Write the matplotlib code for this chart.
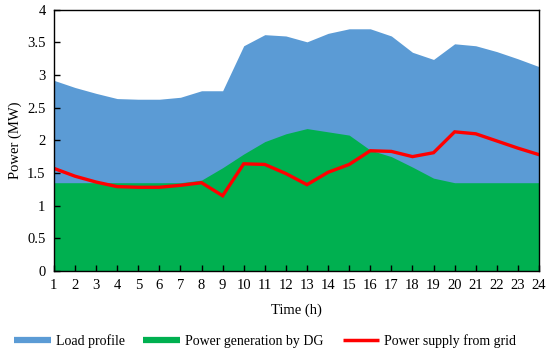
import matplotlib
matplotlib.use("Agg")
import matplotlib.pyplot as plt
from matplotlib.lines import Line2D

hours = list(range(1, 25))
load = [2.92, 2.81, 2.72, 2.64, 2.63, 2.63, 2.66, 2.76, 2.76, 3.45, 3.62, 3.60,
        3.51, 3.64, 3.71, 3.71, 3.60, 3.35, 3.24, 3.48, 3.45, 3.36, 3.25, 3.13]
dg = [1.35, 1.35, 1.35, 1.35, 1.35, 1.35, 1.35, 1.39, 1.58, 1.79, 1.98, 2.10,
      2.18, 2.13, 2.08, 1.85, 1.75, 1.59, 1.42, 1.35, 1.35, 1.35, 1.35, 1.35]
grid = [1.57, 1.45, 1.36, 1.29, 1.28, 1.28, 1.31, 1.35, 1.15, 1.64, 1.63, 1.49,
        1.32, 1.51, 1.63, 1.84, 1.83, 1.75, 1.81, 2.13, 2.10, 1.99, 1.88, 1.78]

labels = ["Load profile", "Power generation by DG", "Power supply from grid"]
c_load, c_dg, c_grid = "#5B9BD5", "#00B050", "#FF0000"

plt.rcParams['font.family'] = ['Liberation Serif', 'DejaVu Serif']
plt.rcParams['font.size'] = 10.5

fig = plt.figure(figsize=(5.5, 3.53), dpi=100)
ax = fig.add_axes([0.098, 0.233, 0.882, 0.739])

ax.fill_between(hours, 0, load, color=c_load, linewidth=0)
ax.fill_between(hours, 0, dg, color=c_dg, linewidth=0)
ax.plot(hours, grid, color=c_grid, linewidth=2.4, solid_joinstyle='miter')

ax.set_xlim(1, 24)
ax.set_ylim(0, 4)
ax.set_xticks(hours)
ax.set_yticks([0, 0.5, 1, 1.5, 2, 2.5, 3, 3.5, 4])
ax.set_yticklabels(["0", "0.5", "1", "1.5", "2", "2.5", "3", "3.5", "4"])
ax.tick_params(direction='in', length=4, width=1, color='black', pad=6)
for s in ax.spines.values():
    s.set_color('black')
    s.set_linewidth(1.0)
ax.set_xlabel("Time (h)", labelpad=8)
ax.set_ylabel("Power (MW)", labelpad=4)

handles = [Line2D([0], [0], color=c_load, lw=4.5, solid_capstyle='butt'),
           Line2D([0], [0], color=c_dg, lw=4.5, solid_capstyle='butt'),
           Line2D([0], [0], color=c_grid, lw=2.5, solid_capstyle='butt')]
fig.legend(handles, labels, loc='center', bbox_to_anchor=(0.482, 0.034), ncol=3,
           frameon=False, handlelength=2.65, handletextpad=0.36, columnspacing=1.35,
           fontsize=10)

fig.savefig("out.png", dpi=100)
